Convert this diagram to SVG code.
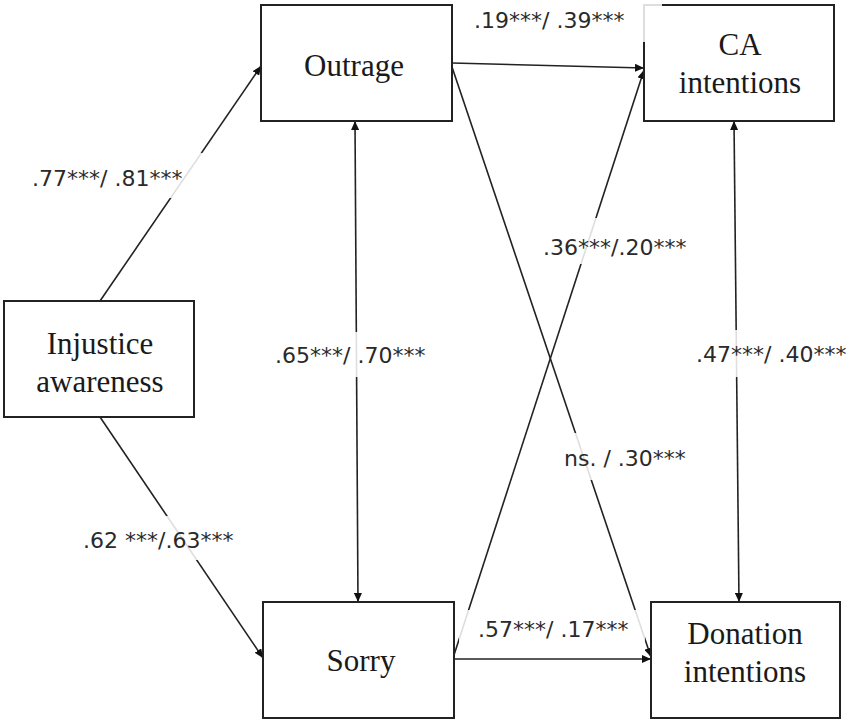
<svg xmlns="http://www.w3.org/2000/svg" width="854" height="725" viewBox="0 0 854 725">
  <style>
    .box { fill: #ffffff; stroke: #222222; stroke-width: 2; }
    .name { font-family: "Liberation Serif", "Times New Roman", serif; font-size: 31px; fill: #1a1a1a; text-anchor: middle; }
    .edge { stroke: #222222; stroke-width: 1.6; fill: none; }
    .one { marker-end: url(#tip); }
    .two { marker-start: url(#tip); marker-end: url(#tip); }
    .lblbg { fill: #ffffff; opacity: 0.85; }
    .lbl { font-family: "DejaVu Sans", "Liberation Sans", sans-serif; font-size: 22px; fill: #2a2a2a; }
  </style>
  <defs>
    <marker id="tip" markerUnits="userSpaceOnUse" markerWidth="10" markerHeight="8" refX="9" refY="4" orient="auto-start-reverse">
      <path d="M0,0 L9,4 L0,8 z" fill="#111111"/>
    </marker>
  </defs>
  <rect width="854" height="725" fill="#ffffff"/>

  <!-- paths between constructs -->
  <g id="connectors">
    <line class="edge one" x1="100" y1="301" x2="261" y2="66"/>
    <line class="edge one" x1="100" y1="417" x2="263" y2="658"/>
    <line class="edge two" x1="355" y1="121" x2="358" y2="602"/>
    <line class="edge one" x1="452" y1="63" x2="644" y2="68"/>
    <line class="edge one" x1="452" y1="67" x2="651" y2="657"/>
    <line class="edge one" x1="454" y1="655" x2="644" y2="70"/>
    <line class="edge one" x1="454" y1="659" x2="651" y2="659"/>
    <line class="edge two" x1="734" y1="121" x2="739" y2="602"/>
  </g>

  <g id="node-outrage">
    <rect class="box" x="261" y="5" width="191" height="116"/>
    <text class="name" x="354" y="76">Outrage</text>
  </g>
  <g id="node-ca">
    <rect class="box" x="644" y="5" width="190" height="116"/>
    <text class="name" x="740" y="55">CA</text>
    <text class="name" x="740" y="93">intentions</text>
  </g>
  <g id="node-injustice">
    <rect class="box" x="4" y="301" width="190" height="116"/>
    <text class="name" x="100" y="354">Injustice</text>
    <text class="name" x="100" y="392">awareness</text>
  </g>
  <g id="node-sorry">
    <rect class="box" x="263" y="602" width="191" height="116"/>
    <text class="name" x="361" y="671">Sorry</text>
  </g>
  <g id="node-donation">
    <rect class="box" x="651" y="602" width="189" height="116"/>
    <text class="name" x="745" y="644">Donation</text>
    <text class="name" x="745" y="682">intentions</text>
  </g>

  <!-- path coefficients -->
  <g id="labels">
    <rect class="lblbg" x="26" y="153" width="178" height="45"/>
    <text class="lbl" x="32" y="186">.77***/ .81***</text>

    <rect class="lblbg" x="468" y="0" width="194" height="42"/>
    <text class="lbl" x="474" y="28">.19***/ .39***</text>

    <rect class="lblbg" x="537" y="218" width="158" height="46"/>
    <text class="lbl" x="543" y="255">.36***/.20***</text>

    <rect class="lblbg" x="270" y="332" width="162" height="45"/>
    <text class="lbl" x="275" y="363">.65***/ .70***</text>

    <rect class="lblbg" x="78" y="516" width="162" height="44"/>
    <text class="lbl" x="83" y="548">.62 ***/.63***</text>

    <rect class="lblbg" x="690" y="330" width="162" height="47"/>
    <text class="lbl" x="696" y="362">.47***/ .40***</text>

    <rect class="lblbg" x="558" y="433" width="130" height="47"/>
    <text class="lbl" x="564" y="466">ns. / .30***</text>

    <rect class="lblbg" x="459" y="610" width="186" height="36"/>
    <text class="lbl" x="478" y="637">.57***/ .17***</text>
  </g>
</svg>
